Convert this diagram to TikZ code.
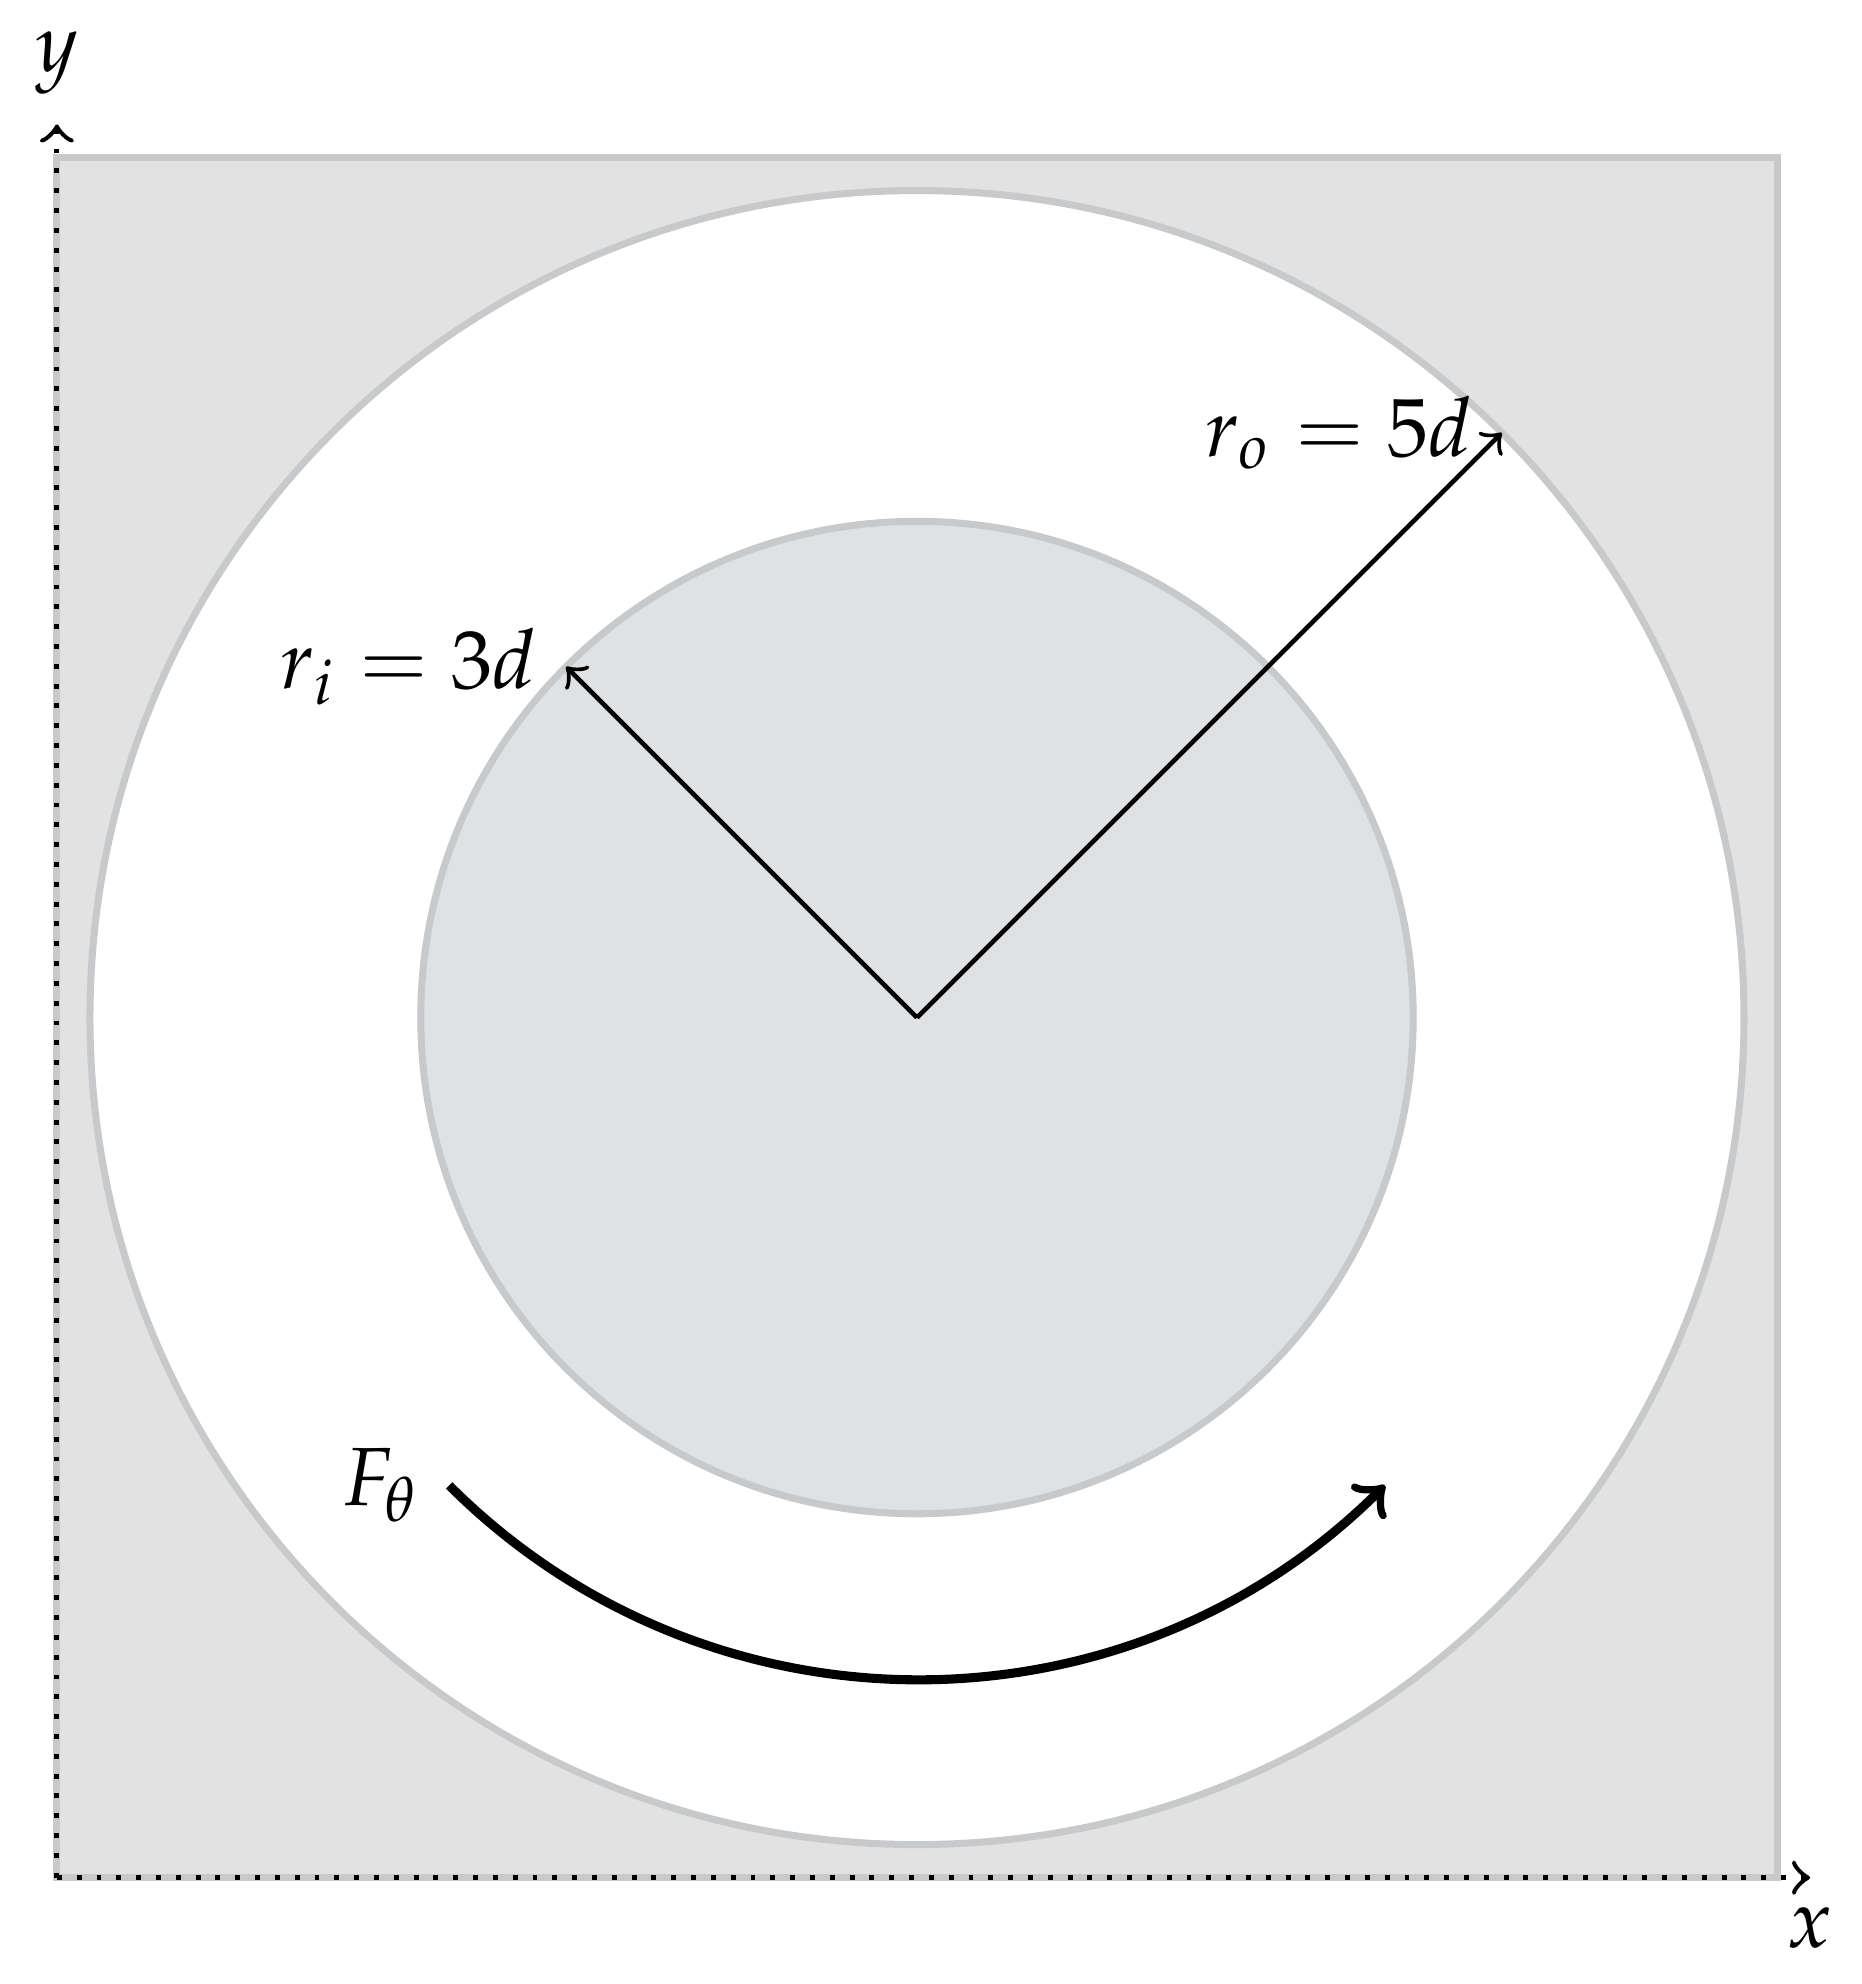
\documentclass[tikz,border=0pt]{standalone}
\usepackage{mathpazo}
\usepackage{tikz}

\definecolor{platefill}{RGB}{226,226,226}
\definecolor{holefill}{RGB}{224,225,227}
\definecolor{rimgray}{RGB}{200,201,203}

\begin{document}
\begin{tikzpicture}[x=0.704cm, y=0.704cm,
    plate/.style={draw=rimgray, line width=0.85pt},
    axisline/.style={line width=0.6pt, dash pattern=on 0.6pt off 1.8pt, ->},
    arm/.style={line width=0.55pt, ->},
    force/.style={line width=1.1pt, ->},
  ]
  \useasboundingbox (-5.544,-5.843) rectangle (5.713,6.152);

  \coordinate (c) at (0,0);
  \coordinate (sw) at (-5.2,-5.2);
  \coordinate (ne) at (5.2,5.2);
  \coordinate (xend) at (5.4,-5.2);
  \coordinate (yend) at (-5.2,5.4);
  \coordinate (ri) at (135:3);
  \coordinate (ro) at (45:5);
  \coordinate (f1) at (225:4);

  % plate, cylinder and hole
  \draw[plate, fill=platefill] (sw) rectangle (ne);
  \draw[plate, fill=white] (c) circle (5);
  \draw[plate, fill=holefill] (c) circle (3);

  % axes
  \draw[axisline] (sw) -- (xend) node[below] (xlab) {$x$};
  \draw[axisline] (sw) -- (yend) node[above] (ylab) {$y$};

  % radii
  \draw[arm] (c) -- (ri) node[left] (rilab) {$r_i = 3d$};
  \draw[arm] (c) -- (ro) node[left] (rolab) {$r_o = 5d$};

  % tangential force
  \node[left] (flab) at (f1) {$F_\theta$};
  \draw[force] (f1) arc[start angle=225, end angle=315, radius=4];
\end{tikzpicture}
\end{document}
